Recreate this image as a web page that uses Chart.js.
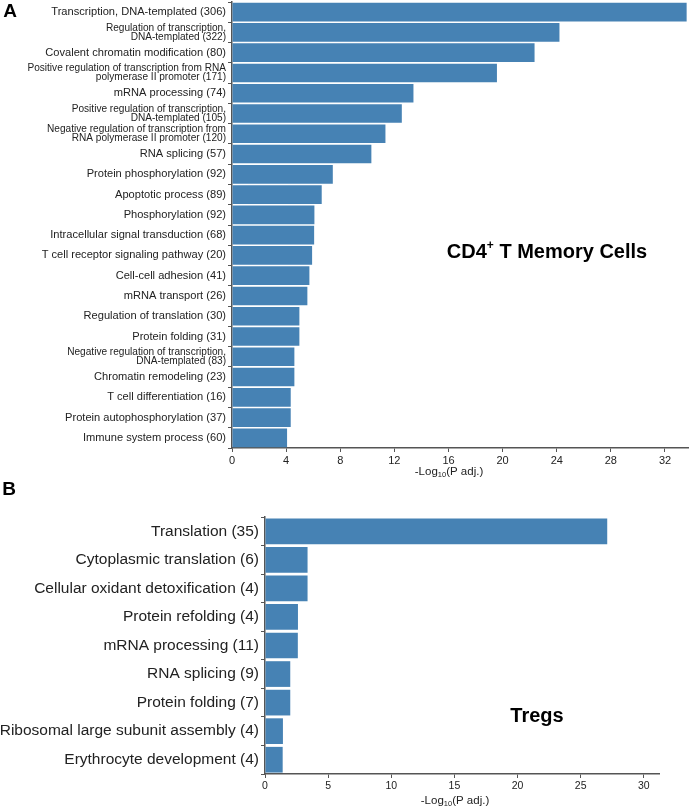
<!DOCTYPE html>
<html>
<head>
<meta charset="utf-8">
<script src="https://cdn.jsdelivr.net/npm/chart.js@4.4.1/dist/chart.umd.min.js"></script>
<style>
  html, body { margin: 0; padding: 0; background: #fff; }
  #page { position: relative; width: 692px; height: 809px; overflow: hidden; }
  .box { position: absolute; left: 0; width: 692px; }
  #boxA { top: 0; height: 480px; }
  #boxB { top: 480px; height: 329px; }
</style>
</head>
<body>
<div id="page">
  <div class="box" id="boxA"><canvas id="memoryChart"></canvas></div>
  <div class="box" id="boxB"><canvas id="tregChart"></canvas></div>
</div>
<script>
// Données : CD4+ T mémoire
const memoryLabels = [
  'Transcription, DNA-templated (306)',
  ['Regulation of transcription,', 'DNA-templated (322)'],
  'Covalent chromatin modification (80)',
  ['Positive regulation of transcription from RNA', 'polymerase II promoter (171)'],
  'mRNA processing (74)',
  ['Positive regulation of transcription,', 'DNA-templated (105)'],
  ['Negative regulation of transcription from', 'RNA polymerase II promoter (120)'],
  'RNA splicing (57)',
  'Protein phosphorylation (92)',
  'Apoptotic process (89)',
  'Phosphorylation (92)',
  'Intracellular signal transduction (68)',
  'T cell receptor signaling pathway (20)',
  'Cell-cell adhesion (41)',
  'mRNA transport (26)',
  'Regulation of translation (30)',
  'Protein folding (31)',
  ['Negative regulation of transcription,', 'DNA-templated (83)'],
  'Chromatin remodeling (23)',
  'T cell differentiation (16)',
  'Protein autophosphorylation (37)',
  'Immune system process (60)'
];
const memoryValues = [33.6, 24.2, 22.36, 19.58, 13.41, 12.55, 11.34, 10.3, 7.45, 6.63, 6.09,
  6.07, 5.92, 5.72, 5.57, 4.98, 4.98, 4.61, 4.61, 4.34, 4.34, 4.07];

// Données : Tregs
const tregLabels = [
  'Translation (35)',
  'Cytoplasmic translation (6)',
  'Cellular oxidant detoxification (4)',
  'Protein refolding (4)',
  'mRNA processing (11)',
  'RNA splicing (9)',
  'Protein folding (7)',
  'Ribosomal large subunit assembly (4)',
  'Erythrocyte development (4)'
];
const tregValues = [27.1, 3.37, 3.37, 2.61, 2.6, 2.0, 2.0, 1.42, 1.4];

const memoryTicks = [0, 4, 8, 12, 16, 20, 24, 28, 32];
const tregTicks = [0, 5, 10, 15, 20, 25, 30];

const FONT = "'Liberation Sans', Arial, sans-serif";
const BAR_COLOR = '#4682B4';
const AXIS_COLOR = '#555555';
const TEXT_COLOR = '#222222';

// Dessiner un texte composé de morceaux (indice, exposant)
function drawRich(ctx, parts, cx, cy) {
  let total = 0;
  parts.forEach(p => {
    ctx.font = (p.bold ? 'bold ' : '') + p.size + 'px ' + FONT;
    p.w = ctx.measureText(p.text).width;
    total += p.w;
  });
  let x = cx - total / 2;
  ctx.textAlign = 'left';
  ctx.textBaseline = 'middle';
  parts.forEach(p => {
    ctx.font = (p.bold ? 'bold ' : '') + p.size + 'px ' + FONT;
    ctx.fillStyle = p.color || '#000';
    ctx.fillText(p.text, x, cy + (p.dy || 0));
    x += p.w;
  });
}

const textPlugin = {
  id: 'extraText',
  afterDraw(chart, args, opts) {
    const ctx = chart.ctx;
    ctx.save();
    (opts.items || []).forEach(it => drawRich(ctx, it.parts, it.x, it.y));
    ctx.restore();
  }
};

function axisTitle(x, y) {
  return {
    x: x, y: y,
    parts: [
      { text: '-Log', size: 11.5, color: TEXT_COLOR },
      { text: '10', size: 7.5, dy: 3, color: TEXT_COLOR },
      { text: '(P adj.)', size: 11.5, color: TEXT_COLOR }
    ]
  };
}

function buildChart(canvasId, cfg) {
  const ctx = document.getElementById(canvasId);
  return new Chart(ctx, {
    type: 'bar',
    data: {
      labels: cfg.labels,
      datasets: [{
        data: cfg.values,
        backgroundColor: BAR_COLOR,
        borderWidth: 0,
        barPercentage: 1,
        categoryPercentage: cfg.catPct
      }]
    },
    options: {
      indexAxis: 'y',
      responsive: true,
      maintainAspectRatio: false,
      animation: false,
      layout: { padding: cfg.padding },
      plugins: {
        legend: { display: false },
        tooltip: { enabled: false },
        extraText: { items: cfg.texts }
      },
      scales: {
        x: {
          min: 0,
          max: cfg.xMax,
          afterFit: s => { s.height = cfg.xHeight; },
          afterBuildTicks: s => {
            s.ticks = cfg.ticks.map(v => ({ value: v }));
          },
          border: { display: true, color: AXIS_COLOR, width: 1.5 },
          grid: { display: true, drawOnChartArea: false, drawTicks: true, tickLength: 4, color: AXIS_COLOR },
          ticks: {
            color: TEXT_COLOR,
            padding: 2,
            maxRotation: 0,
            font: { family: FONT, size: cfg.tickSize }
          }
        },
        y: {
          // largeur fixe, pas de marge ajoutée pour les étiquettes
          afterFit: s => {
            s.width = cfg.yWidth;
            s.paddingTop = 0;
            s.paddingBottom = 0;
          },
          border: { display: true, color: AXIS_COLOR, width: 1.5 },
          grid: { display: true, drawOnChartArea: false, drawTicks: true, tickLength: 4, color: AXIS_COLOR },
          ticks: {
            autoSkip: false,
            color: TEXT_COLOR,
            padding: 2,
            // étiquettes sur deux lignes : police un peu plus petite
            font: c => {
              const multi = Array.isArray(cfg.labels[c.index]);
              return {
                family: FONT,
                size: multi ? cfg.multiSize : cfg.labelSize,
                lineHeight: multi ? cfg.multiLine : 1.2
              };
            }
          }
        }
      }
    },
    plugins: [textPlugin]
  });
}

buildChart('memoryChart', {
  labels: memoryLabels,
  values: memoryValues,
  catPct: 0.92,
  padding: { top: 2, right: 4, left: 0, bottom: 0 },
  xMax: 33.7,
  xHeight: 32,
  yWidth: 232,
  ticks: memoryTicks,
  tickSize: 11,
  labelSize: 11.1,
  multiSize: 10.1,
  multiLine: 0.92,
  texts: [
    axisTitle(449, 472),
    { x: 547, y: 252, parts: [
      { text: 'CD4', size: 20, bold: true },
      { text: '+', size: 12, bold: true, dy: -6 },
      { text: ' T Memory Cells', size: 20, bold: true }
    ] },
    { x: 10, y: 12, parts: [{ text: 'A', size: 19, bold: true }] }
  ]
});

buildChart('tregChart', {
  labels: tregLabels,
  values: tregValues,
  catPct: 0.9,
  padding: { top: 37, right: 33, left: 0, bottom: 0 },
  xMax: 31.2,
  xHeight: 35,
  yWidth: 265,
  ticks: tregTicks,
  tickSize: 10.5,
  labelSize: 15.5,
  multiSize: 15.5,
  multiLine: 1.2,
  texts: [
    axisTitle(455, 321),
    { x: 537, y: 236, parts: [{ text: 'Tregs', size: 20, bold: true }] },
    { x: 9, y: 10, parts: [{ text: 'B', size: 19, bold: true }] }
  ]
});
</script>
</body>
</html>
